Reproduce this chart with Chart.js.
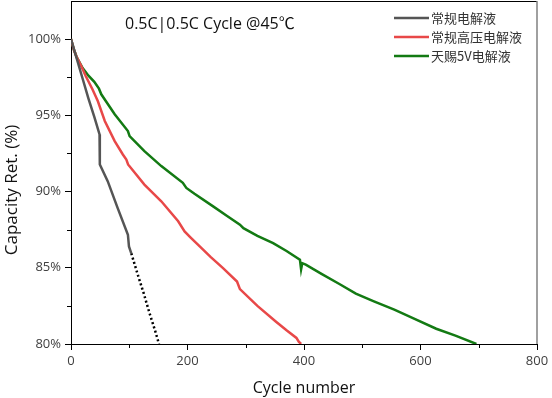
<!DOCTYPE html>
<html>
<head>
<meta charset="utf-8">
<script src="https://cdn.jsdelivr.net/npm/chart.js@4/dist/chart.umd.min.js"></script>
<style>
  html, body { margin: 0; padding: 0; background: #fff; }
  #wrap { width: 552px; height: 398px; }
</style>
</head>
<body>
<div id="wrap"><canvas id="capChart" width="552" height="398"></canvas></div>
<script>
// data ---------------------------------------------------------------------------------
var seriesNames = ['常规电解液', '常规高压电解液', '天赐5V电解液'];

var blackCycles = [0, 10, 20, 30, 40.4, 49, 49.5, 63, 80, 97.7, 99.5, 103.5, 115, 125, 135, 145, 151];
var blackRet    = [100, 98.7, 97.4, 96.1, 94.85, 93.75, 91.78, 90.68, 88.93, 87.17, 86.4, 85.95, 84.5, 83.3, 82.0, 80.8, 80.0];
var blackDottedFrom = 103.5;   // cycle where the black curve turns dotted

var redCycles = [0, 5, 10, 18, 25, 37, 46, 58, 75, 89, 95, 98, 126, 155, 184, 195, 205, 221, 240, 261, 285, 290, 320, 352, 370, 387, 391, 395];
var redRet    = [100, 99.3, 98.8, 98.2, 97.6, 96.7, 95.94, 94.63, 93.31, 92.43, 92.1, 91.78, 90.46, 89.36, 88.05, 87.39, 87.0, 86.4, 85.7, 84.98, 84.1, 83.6, 82.5, 81.46, 80.9, 80.4, 80.15, 80.0];

var greenCycles = [0, 5, 10, 20, 30, 40, 48, 52, 60, 75, 97.7, 100.6, 126, 155, 192, 198, 212, 244, 268, 290, 296, 320, 347, 370, 393, 395, 397, 403, 430, 460, 489, 520, 555, 587, 627, 660, 696];
var greenRet    = [100, 99.3, 98.8, 98.1, 97.6, 97.2, 96.75, 96.38, 95.92, 95.07, 93.97, 93.64, 92.65, 91.67, 90.57, 90.24, 89.85, 89.03, 88.4, 87.83, 87.6, 87.1, 86.62, 86.1, 85.53, 84.9, 85.3, 85.2, 84.6, 83.95, 83.3, 82.8, 82.25, 81.7, 81.0, 80.55, 80.0];

var xTicks = [0, 200, 400, 600, 800];
var xMinor = [100, 300, 500, 700];
var yTicks = [80, 85, 90, 95, 100];
var yMinor = [82.5, 87.5, 92.5, 97.5];

var chartTitle = '0.5C|0.5C Cycle @45℃';
var xTitle = 'Cycle number';
var yTitle = 'Capacity Ret. (%)';

// helpers ----------------------------------------------------------------------------------
function toPoints(xs, ys) {
    return xs.map(function (x, i) { return { x: x, y: ys[i] }; });
}

var dottedIndex = blackCycles.indexOf(blackDottedFrom);

var fontMain = '"Open Sans", "Noto Sans CJK SC", sans-serif';

// extra drawing: minor ticks, top/right frame, title, legend, y title
var decorPlugin = {
    id: 'decor',
    afterDraw: function (chart) {
        var ctx = chart.ctx;
        var area = chart.chartArea;
        var xs = chart.scales.x, ys = chart.scales.y;
        ctx.save();

        // minor ticks
        ctx.strokeStyle = '#000';
        ctx.lineWidth = 1;
        ctx.beginPath();
        xMinor.forEach(function (v) {
            var px = Math.round(xs.getPixelForValue(v)) + 0.5;
            ctx.moveTo(px, area.bottom);
            ctx.lineTo(px, area.bottom + 4);
        });
        yMinor.forEach(function (v) {
            var py = Math.round(ys.getPixelForValue(v)) + 0.5;
            ctx.moveTo(area.left, py);
            ctx.lineTo(area.left - 4, py);
        });
        ctx.stroke();

        // frame top (black) and right (grey)
        ctx.beginPath();
        ctx.moveTo(area.left, area.top + 0.5);
        ctx.lineTo(area.right, area.top + 0.5);
        ctx.stroke();
        ctx.strokeStyle = '#808080';
        ctx.lineWidth = 1.5;
        ctx.beginPath();
        ctx.moveTo(area.right, area.top);
        ctx.lineTo(area.right, area.bottom);
        ctx.stroke();

        // title inside plot
        ctx.fillStyle = '#111';
        ctx.font = '16px ' + fontMain;
        ctx.textBaseline = 'middle';
        ctx.textAlign = 'left';
        ctx.fillText(chartTitle, 125, 24);

        // legend
        ctx.font = '13px "Noto Sans CJK SC", sans-serif';
        ctx.fillStyle = '#333';
        var rowY = [18, 37, 56];
        chart.data.datasets.forEach(function (ds, i) {
            ctx.strokeStyle = ds.borderColor;
            ctx.lineWidth = 2.5;
            ctx.beginPath();
            ctx.moveTo(394, rowY[i]);
            ctx.lineTo(429, rowY[i]);
            ctx.stroke();
            ctx.fillText(ds.label, 431, rowY[i]);
        });

        // y axis title
        ctx.translate(12, 190);
        ctx.rotate(-Math.PI / 2);
        ctx.textAlign = 'center';
        ctx.fillStyle = '#111';
        ctx.font = '17px ' + fontMain;
        ctx.fillText(yTitle, 0, 0);
        ctx.restore();
    }
};

var capChart = document.getElementById('capChart');

if (capChart) {
    var chart = new Chart(capChart, {
        type: 'line',
        data: {
            datasets: [{
                label: seriesNames[0],
                data: toPoints(blackCycles, blackRet),
                borderColor: '#555555',
                borderWidth: 2.5,
                pointRadius: 0,
                segment: {
                    borderColor: function (c) { return c.p0DataIndex >= dottedIndex ? '#000' : undefined; },
                    borderDash: function (c) { return c.p0DataIndex >= dottedIndex ? [2, 2.5] : undefined; }
                }
            }, {
                label: seriesNames[1],
                data: toPoints(redCycles, redRet),
                borderColor: '#e84848',
                borderWidth: 2.5,
                pointRadius: 0
            }, {
                label: seriesNames[2],
                data: toPoints(greenCycles, greenRet),
                borderColor: '#137a13',
                borderWidth: 2.5,
                pointRadius: 0
            }]
        },
        options: {
            responsive: false,
            animation: false,
            layout: { padding: { top: 1, right: 15, left: 0, bottom: 0 } },
            plugins: {
                legend: { display: false },
                tooltip: { enabled: false }
            },
            scales: {
                x: {
                    type: 'linear',
                    min: 0,
                    max: 800,
                    afterBuildTicks: function (s) { s.ticks = xTicks.map(function (v) { return { value: v }; }); },
                    afterFit: function (s) { s.height = 54; },
                    border: { color: '#000', width: 1 },
                    grid: { drawOnChartArea: false, tickLength: 6, tickColor: '#000' },
                    ticks: { color: '#404040', padding: 3, font: { family: fontMain, size: 13 }, maxRotation: 0 },
                    title: { display: true, text: xTitle, color: '#111', font: { family: fontMain, size: 16 }, padding: { top: 2, bottom: 0 } }
                },
                y: {
                    min: 80,
                    max: 102.5,
                    afterBuildTicks: function (s) { s.ticks = yTicks.map(function (v) { return { value: v }; }); },
                    afterFit: function (s) { s.width = 71; s.paddingTop = 0; s.paddingBottom = 0; },
                    border: { color: '#000', width: 1 },
                    grid: { drawOnChartArea: false, tickLength: 6, tickColor: '#000' },
                    ticks: {
                        color: '#404040',
                        padding: 4,
                        font: { family: fontMain, size: 13 },
                        callback: function (v) { return v + '%'; }
                    }
                }
            }
        },
        plugins: [decorPlugin]
    });
}
</script>
</body>
</html>
